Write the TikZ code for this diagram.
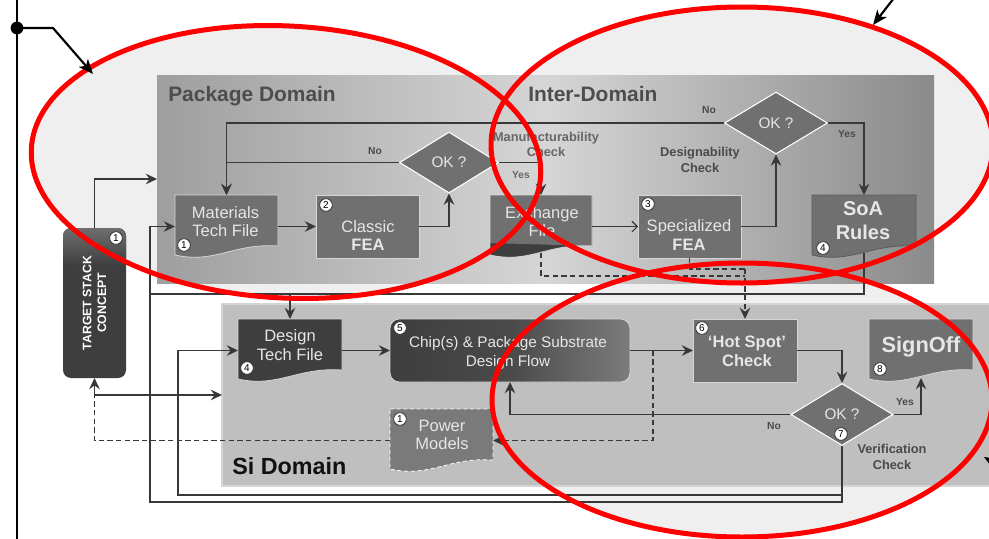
\documentclass[tikz,border=0pt]{standalone}
\usepackage{fontspec}
\setmainfont{Liberation Sans}
\usetikzlibrary{arrows.meta,shapes.geometric,calc,fit}
\definecolor{ellfill}{HTML}{EFEFEF}
\definecolor{nodegray}{HTML}{707070}
\definecolor{nodedark}{HTML}{3E3E3E}
\definecolor{linegray}{HTML}{383838}
\definecolor{txtlight}{HTML}{E6E6E6}
\definecolor{lblgray}{HTML}{4A4A4A}
\definecolor{lblmid}{HTML}{666666}
\definecolor{sifill}{HTML}{BFBFBF}
\definecolor{siborder}{HTML}{D4D4D4}
\definecolor{nodeborder}{HTML}{D6D6D6}
\definecolor{soaborder}{HTML}{5A5A5A}
\definecolor{pkgleft}{HTML}{9E9E9E}
\definecolor{pkgmid}{HTML}{D6D6D6}
\definecolor{pkgright}{HTML}{8A8A8A}
\definecolor{pkglabel}{HTML}{4D4D4D}
\definecolor{silabel}{HTML}{111111}
\definecolor{chipmid}{HTML}{4A4A4A}
\definecolor{chipright}{HTML}{7C7C7C}
\definecolor{pwrfill}{HTML}{7A7A7A}
\definecolor{targettop}{HTML}{6E6E6E}
\definecolor{badgeline}{HTML}{333333}
\newcommand\docshape[2]{\path[#2] (#1.north west) -- (#1.north east) -- ($(#1.south east)+(0,-12)$) .. controls ($(#1.south east)+(-45,-15)$) and ($(#1.south west)+(40,6)$) .. ($(#1.south west)+(0,-3)$) -- cycle;}
\begin{document}
\begin{tikzpicture}[x=0.75pt,y=-0.75pt,
 conn/.style={draw=linegray,line width=0.8pt},
 arr/.style={-{Stealth[length=8.5pt,width=8pt,inset=3pt]}},
 dsh/.style={dash pattern=on 4pt off 2.5pt},
 frame/.style={inner sep=0pt,outer sep=0pt},
 boxfill/.style={fill=nodegray,draw=nodeborder,line width=0.6pt},
 dmd/.style={diamond,fill=nodegray,draw=white,line width=0.8pt,inner sep=0pt,text=txtlight,font=\fontsize{11.5}{13}\selectfont},
 ntxt/.style={text=txtlight,align=center,inner sep=0pt,font=\fontsize{12.4}{14}\selectfont},
 badge/.style={circle,fill=white,draw=badgeline,line width=0.6pt,inner sep=0pt,minimum size=9.5pt,text=black,font=\fontsize{7.5}{8}\selectfont},
 lbl/.style={text=lblgray,inner sep=0pt,anchor=base,font=\bfseries\fontsize{7.7}{9}\selectfont},
 chk/.style={text=lblgray,inner sep=0pt,align=center,font=\bfseries\fontsize{9.6}{11.5}\selectfont},
 redell/.style={draw=red,line width=3.75pt},
 annot/.style={draw=black,line width=1.6pt,-{Stealth[length=11pt,width=9pt,inset=3pt]}}]
\useasboundingbox (0,0) rectangle (989,539);
\clip (0,0) rectangle (989,539);
\fill[white] (0,0) rectangle (989,539);
% ellipse fills
\fill[ellfill,shift={(286,162)},rotate=-3] (0,0) ellipse [x radius=191.25pt,y radius=102pt];
\fill[ellfill] (742,145) ellipse [x radius=188.25pt,y radius=103.5pt];
\fill[ellfill] (742,400) ellipse [x radius=187.5pt,y radius=102.75pt];
% domains
\node[frame,fit={(157,75) (934,283)},left color=pkgleft,right color=pkgright,middle color=pkgmid] (pkg) {};
\node[frame,fit={(222,304) (1000,486)},fill=sifill,draw=siborder,line width=0.8pt] (si) {};
\node[anchor=base west,inner sep=0pt,text=pkglabel,font=\bfseries\fontsize{15.7}{18}\selectfont] (pkgL) at (168,101) {Package Domain};
\node[anchor=base west,inner sep=0pt,text=pkglabel,font=\bfseries\fontsize{15.7}{18}\selectfont] (interL) at (528,101) {Inter-Domain};
\node[anchor=base west,inner sep=0pt,text=silabel,font=\bfseries\fontsize{17.5}{20}\selectfont] (siL) at (232,474) {Si Domain};
% target
\node[frame,fit={(63,228) (126,378)},rounded corners=6pt,fill=nodedark] (target) {};
\shade[top color=targettop,bottom color=nodedark,rounded corners=6pt] (63,228) rectangle (126,266);
\node[rotate=90,text=white,align=center,inner sep=0pt,font=\bfseries\fontsize{9.2}{11.2}\selectfont] (targetT) at (94.5,303) {TARGET STACK\\CONCEPT};
% package / inter domain nodes
\node[frame,fit={(175,195) (278,258)}] (mat) {};
\docshape{mat}{fill=nodegray,draw=nodeborder,line width=0.6pt}
\node[frame,fit={(316,195) (419,258)},boxfill] (cfea) {};
\node[dmd,minimum width=99*0.75pt,minimum height=61*0.75pt] (ok1) at (449,162.5) {OK ?};
\node[frame,fit={(490,195) (592,258)}] (exch) {};
\docshape{exch}{fill=nodedark}
\fill[nodegray] (exch.north west) -- (exch.north east) -- ($(exch.south east)+(0,-12)$) -- ($(exch.south west)+(0,-15)$) -- cycle;
\docshape{exch}{draw=nodeborder,line width=0.6pt}
\node[frame,fit={(638,195) (741,258)},boxfill] (sfea) {};
\node[dmd,minimum width=103*0.75pt,minimum height=62*0.75pt] (ok2) at (776,123) {OK ?};
\node[frame,fit={(812,195) (916,258)}] (soa) {};
\docshape{soa}{fill=nodegray,draw=soaborder,line width=0.6pt}
% si domain nodes
\node[frame,fit={(238,319) (342,382)}] (dtf) {};
\docshape{dtf}{fill=nodedark,draw=nodeborder,line width=0.6pt}
\node[frame,fit={(390,319) (630,382)},rounded corners=7pt,left color=nodedark,right color=chipright,middle color=chipmid,draw=nodeborder,line width=0.6pt] (chip) {};
\node[frame,fit={(390,409) (493,472)}] (pwr) {};
\docshape{pwr}{fill=pwrfill,draw=white,line width=0.6pt,dash pattern=on 3pt off 2pt}
\node[frame,fit={(693,319) (797,382)},boxfill] (hot) {};
\node[dmd,minimum width=102*0.75pt,minimum height=62*0.75pt] (ok3) at (842,414.5) {OK ?};
\node[frame,fit={(869,319) (973,382)}] (sign) {};
\docshape{sign}{fill=nodegray,draw=nodeborder,line width=0.6pt}
% node texts
\node[ntxt] (matT) at (225.5,221.5) {Materials\\Tech File};
\node[ntxt] (cfeaT) at (368,235.5) {Classic\\\textbf{FEA}};
\node[ntxt] (exchT) at (542,221.5) {Exchange\\File};
\node[ntxt] (sfeaT) at (689,235) {Specialized\\\textbf{FEA}};
\node[ntxt,font=\bfseries\fontsize{15}{18}\selectfont] (soaT) at (863,221) {SoA\\Rules};
\node[ntxt] (dtfT) at (290,345) {Design\\Tech File};
\node[ntxt,font=\fontsize{11.5}{14}\selectfont] (chipT) at (508,353) {Chip(s) \& Package Substrate\\Design Flow};
\node[ntxt] (pwrT) at (442,435) {Power\\Models};
\node[ntxt,font=\bfseries\fontsize{12.4}{14}\selectfont] (hotT) at (747,351.5) {‘Hot Spot’\\Check};
\node[ntxt,font=\bfseries\fontsize{16.4}{19}\selectfont] (signT) at (921,347) {SignOff};
% labels
\node[lbl] (no1) at (375,154) {No};
\node[lbl,text=lblmid] (yes1) at (521,178) {Yes};
\node[lbl] (no2) at (709,113) {No};
\node[lbl] (yes2) at (847,137) {Yes};
\node[lbl] (yes3) at (905,405) {Yes};
\node[lbl] (no3) at (774,429) {No};
\node[chk,text=lblmid] (mfc) at (546,144.5) {Manufacturability\\Check};
\node[chk] (dsc) at (700,160) {Designability\\Check};
\node[chk] (vfc) at (892,457) {Verification\\Check};
% connectors: package / inter domain
\draw[conn,arr] (mat.east) -- (cfea.west);
\draw[conn,arr] (cfea.east) -| (ok1.south);
\draw[conn,arr] (ok1.west) -| (mat.north);
\draw[conn,arr] (ok2.west) -| (mat.north);
\draw[conn,arr] (ok1.east) -| (exch.north);
\draw[conn,-{Straight Barb[length=4pt,width=8pt]}] (exch.east) -- (sfea.west);
\draw[conn,arr] (sfea.east) -| (ok2.south);
\draw[conn,arr] (ok2.east) -| (soa.north);
% target
\draw[conn,arr] (target.north) |- (pkg.west);
\coordinate (tj) at (target.south |- si.west);
\draw[conn,arr] (tj) -- (si.west);
\draw[conn,arr] (tj) -- (target.south);
\draw[conn,dsh] (pwr.west) -| (tj);
% SoA feed
\coordinate (sj) at (150,294);
\draw[conn] ($(soa.south)+(0,-5)$) |- (sj);
\draw[conn,arr] (dtf.north |- sj) -- (dtf.north);
% si domain
\draw[conn,arr] (dtf.east) -- (chip.west);
\draw[conn,arr] (chip.east) -- (hot.west);
\coordinate (cj) at (653,350.5);
\draw[conn,dsh,arr] (cj) |- (pwr.east);
\draw[conn,arr] (hot.east) -| (ok3.north);
\draw[conn,arr] (ok3.west) -| (chip.south);
\draw[conn,arr] (ok3.east) -| ($(sign.south)+(0,-4)$);
% feedback
\coordinate (b1) at (150,502);
\coordinate (b2) at (178,495);
\draw[conn,arr] (ok3.south) |- (b1) |- (mat.west);
\draw[conn,arr] (ok3.south) |- (b2) |- (dtf.west);
% dashed exchange
\coordinate (hj1) at (745,276);
\coordinate (hj2) at (745,269);
\draw[conn,dsh] ($(exch.south)+(0,-5)$) |- (hj1);
\draw[conn,dsh] (sfea.south) |- (hj2);
\draw[conn,dsh,arr] (hj2) -- (hot.north);
% badges
\node[badge] (bt) at (116,238) {1};
\node[badge] (bm) at (184,245) {1};
\node[badge] (bc) at (326,205) {2};
\node[badge] (bs) at (648,204) {3};
\node[badge] (bso) at (823,248) {4};
\node[badge] (bd) at (247,368) {4};
\node[badge] (bch) at (400,328) {5};
\node[badge] (bp) at (400,419) {1};
\node[badge] (bh) at (702,328) {6};
\node[badge] (bo) at (841,434) {7};
\node[badge] (bsg) at (880,369) {8};
% red ellipses
\draw[redell,shift={(286,162)},rotate=-3] (0,0) ellipse [x radius=191.25pt,y radius=102pt];
\draw[redell] (742,145) ellipse [x radius=188.25pt,y radius=103.5pt];
\draw[redell] (742,400) ellipse [x radius=187.5pt,y radius=102.75pt];
% annotations
\coordinate (vt) at (17,-5);
\coordinate (vb) at (17,545);
\coordinate (dot) at (17,28);
\coordinate (k1) at (53,28);
\coordinate (a1) at (93,74);
\draw[black,line width=2pt] (vt) -- (vb);
\fill[black] (dot) circle (4.8pt);
\draw[annot] (dot) -- (k1) -- (a1);
\coordinate (a2s) at (894,-2);
\coordinate (a2) at (873,25);
\draw[annot] (a2s) -- (a2);
\coordinate (a3s) at (1010,472);
\coordinate (a3) at (984,457);
\draw[annot] (a3s) -- (a3);
\end{tikzpicture}
\end{document}
